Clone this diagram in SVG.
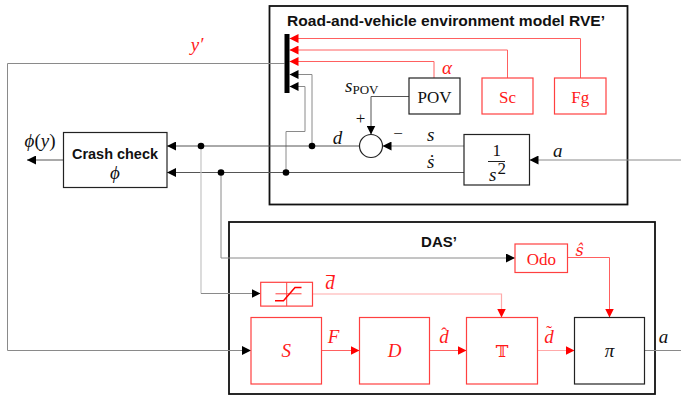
<svg xmlns="http://www.w3.org/2000/svg" width="681" height="396" viewBox="0 0 681 396">
<defs>
<style>
.frame{fill:none;stroke:#111;stroke-width:1.8}
.blk{fill:#fff;stroke:#222;stroke-width:1.2}
.red{fill:#fff;stroke:#ff4040;stroke-width:1.2}
.ln{fill:none;stroke:#555;stroke-width:1}
.lg{fill:none;stroke:#8a8a8a;stroke-width:1}
.llg{fill:none;stroke:#c4c4c4;stroke-width:1.2}
.lr{fill:none;stroke:#ff6060;stroke-width:1}
.lrl{fill:none;stroke:#ffaaaa;stroke-width:1.2}
.ttl{font-family:"Liberation Sans",Arial,sans-serif;font-weight:bold;font-size:15px;fill:#111}
.m{font-family:"Liberation Serif","DejaVu Serif",serif;font-style:italic;font-size:19px;fill:#111}
.mr{font-family:"Liberation Serif","DejaVu Serif",serif;font-style:italic;font-size:19px;fill:#ff1a1a}
.acc{font-style:normal;font-size:17px}
.dj{font-family:"DejaVu Serif",serif;font-style:italic;font-size:16px;fill:#ff1a1a}
.u{font-family:"Liberation Serif","DejaVu Serif",serif;font-size:17px;fill:#111}
.ur{font-family:"Liberation Serif","DejaVu Serif",serif;font-size:17px;fill:#ff1a1a}
</style>
<marker id="ab" viewBox="0 0 10 10" refX="10" refY="5" markerWidth="9" markerHeight="9" markerUnits="userSpaceOnUse" orient="auto"><path d="M0,0 L10,5 L0,10 z" fill="#000"/></marker>
<marker id="ar" viewBox="0 0 10 10" refX="10" refY="5" markerWidth="9" markerHeight="9" markerUnits="userSpaceOnUse" orient="auto"><path d="M0,0 L10,5 L0,10 z" fill="#ff0000"/></marker>
</defs>
<rect width="681" height="396" fill="#fff"/>

<g id="rve">
<rect class="frame" x="269.5" y="6" width="358" height="198.5"/>
<text class="ttl" x="287" y="26" textLength="318" lengthAdjust="spacingAndGlyphs">Road-and-vehicle environment model RVE’</text>
</g>
<g id="das">
<rect class="frame" x="229" y="222" width="426" height="172"/>
<text class="ttl" x="439" y="246.5" text-anchor="middle">DAS’</text>
</g>

<g id="connectors">
<path class="lr" d="M580.5,78 V38.5 H289.5" marker-end="url(#ar)"/>
<path class="lr" d="M507.5,78 V50 H289.5" marker-end="url(#ar)"/>
<path class="lr" d="M434,78 V61.5 H289.5" marker-end="url(#ar)"/>
<path class="lg" d="M312,146 V74.5 H289.5" marker-end="url(#ab)"/>
<path class="lg" d="M286,172.5 V131.5 H305 V86.5 H289.5" marker-end="url(#ab)"/>
<path class="lg" d="M284.5,63.5 H7.5 V350.5 H251" marker-end="url(#ab)"/>
<path class="ln" d="M409,96.5 H371 V134.5" marker-end="url(#ab)"/>
<path class="lg" d="M464,146 H382.5" marker-end="url(#ab)"/>
<path class="ln" d="M359.5,146 H167" marker-end="url(#ab)"/>
<path class="ln" d="M464,172.5 H167" marker-end="url(#ab)"/>
<path class="lg" d="M681,160 H529.5" marker-end="url(#ab)"/>
<path class="ln" d="M63.5,160 H27" marker-end="url(#ab)"/>
<path class="lg" d="M221,172.5 V258 H515" marker-end="url(#ab)"/>
<path class="llg" d="M201,146 V293.5"/>
<path class="lg" d="M201,293.5 H260.5" marker-end="url(#ab)"/>
<path class="lr" d="M567.5,257.5 H609.5 V317.5" marker-end="url(#ar)"/>
<path class="lrl" d="M312.5,294 H501.5 V317.5" marker-end="url(#ar)"/>
<path class="lr" d="M321.5,350.5 H359.5" marker-end="url(#ar)"/>
<path class="lr" d="M429.5,350.5 H466.5" marker-end="url(#ar)"/>
<path class="lrl" d="M537.5,350.5 H574.5" marker-end="url(#ar)"/>
<path class="lg" d="M644.5,350.5 H681"/>
<circle cx="201" cy="146" r="3.3" fill="#000"/>
<circle cx="221" cy="172.5" r="3.3" fill="#000"/>
<circle cx="312" cy="146" r="3.3" fill="#000"/>
<circle cx="286" cy="172.5" r="3.3" fill="#000"/>
</g>

<g id="bus"><rect x="284.5" y="34" width="5" height="59" fill="#000"/></g>

<g id="crash">
<rect class="blk" x="63.5" y="132.5" width="103.5" height="55"/>
<text class="ttl" x="115" y="159" text-anchor="middle" textLength="86" lengthAdjust="spacingAndGlyphs">Crash check</text>
<text class="m" x="115" y="179" text-anchor="middle">ϕ</text>
</g>

<g id="pov">
<rect class="blk" x="409" y="78" width="51" height="36"/>
<text class="u" x="434.5" y="103" text-anchor="middle">POV</text>
</g>
<g id="sc">
<rect class="red" x="482" y="78" width="51" height="36"/>
<text class="ur" x="507.5" y="103" text-anchor="middle">Sc</text>
</g>
<g id="fg">
<rect class="red" x="554.5" y="78" width="51.5" height="36"/>
<text class="ur" x="580.3" y="103" text-anchor="middle">Fg</text>
</g>
<g id="sum">
<circle cx="371" cy="146" r="11.5" fill="#fff" stroke="#222" stroke-width="1.2"/>
</g>
<g id="integrator">
<rect class="blk" x="464" y="134.5" width="65.5" height="50.5"/>
<text class="u" x="496.7" y="155.5" text-anchor="middle" font-size="18">1</text>
<line x1="488" y1="161.5" x2="505" y2="161.5" stroke="#222" stroke-width="1"/>
<text class="m" x="489" y="180.5" font-size="18">s</text>
<text class="u" x="497.5" y="174" font-size="12">2</text>
</g>

<g id="odo">
<rect class="red" x="515" y="244" width="52.5" height="28.5"/>
<text class="ur" x="541.3" y="264.5" text-anchor="middle">Odo</text>
</g>
<g id="sat">
<rect class="red" x="260.7" y="282.3" width="51.8" height="23.8"/>
<line x1="286.7" y1="282.3" x2="286.7" y2="306.1" stroke="#ff4040" stroke-width="1"/>
<line x1="275.5" y1="293.8" x2="301.5" y2="293.8" stroke="#ff4040" stroke-width="1"/>
<polyline points="275,300.7 283.5,300.7 295,287.4 301.5,287.4" fill="none" stroke="#ff0000" stroke-width="1.5"/>
</g>
<g id="S">
<rect class="red" x="251" y="317.5" width="70.5" height="66.5"/>
<text class="mr" x="286.2" y="357" text-anchor="middle">S</text>
</g>
<g id="D">
<rect class="red" x="359.5" y="317.5" width="70" height="66.5"/>
<text class="mr" x="394.5" y="357" text-anchor="middle">D</text>
</g>
<g id="T">
<rect class="red" x="466.5" y="317.5" width="71" height="66.5"/>
<text class="ur" x="502" y="357" text-anchor="middle" style="font-family:'DejaVu Serif','DejaVu Sans',serif">𝕋</text>
</g>
<g id="pi">
<rect class="blk" x="574.5" y="317.5" width="70" height="66.5"/>
<text class="m" x="609.5" y="357" text-anchor="middle">π</text>
</g>

<g id="labels">
<text class="mr" x="197" y="51" text-anchor="middle">y′</text>
<text class="m" x="40" y="147" text-anchor="middle">ϕ<tspan font-style="normal">(</tspan>y<tspan font-style="normal">)</tspan></text>
<text class="mr" x="447" y="74" text-anchor="middle">α</text>
<text class="m" x="345" y="92">s<tspan font-style="normal" font-size="13" dy="2">POV</tspan></text>
<text class="u" x="360.5" y="124" text-anchor="middle" font-size="18">+</text>
<text class="u" x="398" y="139" text-anchor="middle" font-size="18">−</text>
<text class="m" x="337.5" y="144" text-anchor="middle">d</text>
<text class="m" x="430.7" y="141" text-anchor="middle">s</text>
<text class="m" x="430.7" y="168" text-anchor="middle">ṡ</text>
<text class="m" x="557.7" y="156.5" text-anchor="middle">a</text>
<text class="dj" x="579.5" y="256" text-anchor="middle">ŝ</text>
<text class="mr" x="325.3" y="289">d<tspan class="acc" dx="-8.6" dy="-1">¯</tspan></text>
<text class="mr" x="333.5" y="343" text-anchor="middle">F</text>
<text class="mr" x="439.3" y="343">d<tspan class="acc" dx="-7.6" dy="-4">ˆ</tspan></text>
<text class="mr" x="544.3" y="343">d<tspan class="acc" dx="-7.6" dy="-6">˜</tspan></text>
<text class="m" x="663.5" y="343" text-anchor="middle">a</text>
</g>
</svg>
